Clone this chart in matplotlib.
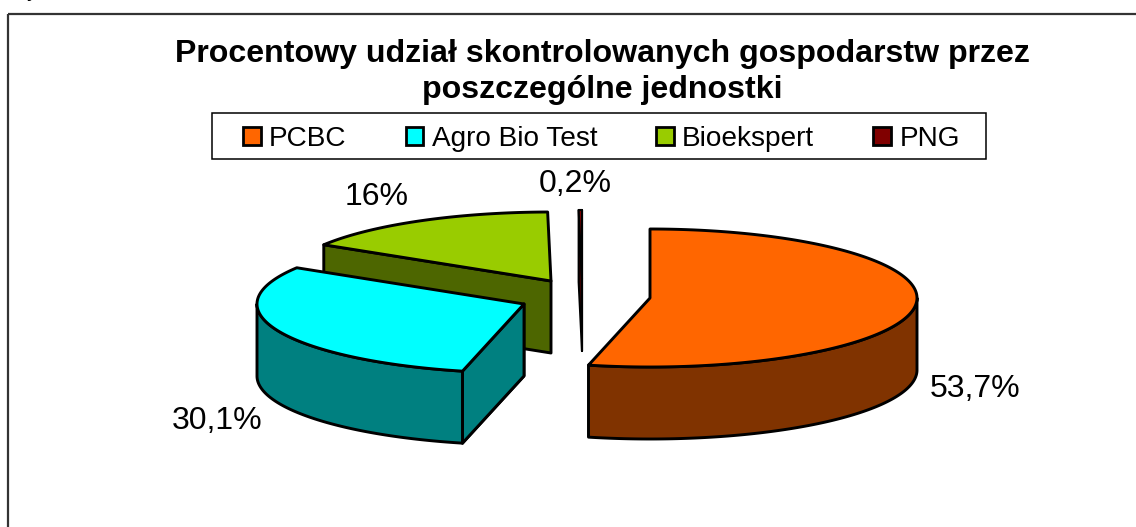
import numpy as np
import matplotlib.pyplot as plt
from matplotlib.patches import Polygon, Patch, Rectangle

plt.rcParams['font.family'] = ['Liberation Sans', 'DejaVu Sans']

# chart data
categories = ['PCBC', 'Agro Bio Test', 'Bioekspert', 'PNG']
shares = [53.7, 30.1, 16.0, 0.2]
share_labels = ['53,7%', '30,1%', '16%', '0,2%']
title = 'Procentowy udział skontrolowanych gospodarstw przez\nposzczególne jednostki'

# styles
top_colors = ['#FF6600', '#00FFFF', '#99CC00', '#800000']
side_colors = ['#803300', '#008080', '#4D6600', '#400000']

# layout, in pixels of the picture
centers = [(650, 298), (524, 304), (551, 281), (582, 279)]
label_pos = [(975, 389), (217, 421), (377, 197), (575, 184)]
rx, ry, depth = 267, 69, 72

fig = plt.figure(figsize=(11.36, 5.27), dpi=100)
ax = fig.add_axes([0, 0, 1, 1])
ax.set_xlim(0, 1136)
ax.set_ylim(527, 0)
ax.axis('off')

# outer frame of the chart, runs off the picture on the right and at the bottom
ax.add_patch(Rectangle((8, 14), 1300, 700, fill=False, ec='#333333', lw=1.6))
# tail of a caption that was cropped at the top of the picture
ax.text(27, -4, 'y', fontsize=16, ha='left', va='baseline', clip_on=False)


def rim(cx, cy, a0, a1):
    # angles are clockwise from 12 o'clock
    t = np.radians(np.linspace(a0, a1, max(int(abs(a1 - a0)) * 2, 4)))
    return np.column_stack([cx + rx * np.sin(t), cy - ry * np.cos(t)])


def down(pts):
    return pts + [0, depth]


ends = np.cumsum([0] + shares) / sum(shares) * 360

# painted back to front
for i in [2, 3, 1, 0]:
    a0, a1 = ends[i], ends[i + 1]
    cx, cy = centers[i]
    arc = rim(cx, cy, a0, a1)
    apex = np.array([[cx, cy]])
    lw = 1.5 if i == 3 else 2.1  # the thin PNG slice goes all black otherwise
    kw = dict(fc=side_colors[i], ec='black', lw=lw, joinstyle='round')

    # flat cut faces that look to the viewer
    if a0 > 180:
        p = np.vstack([apex, arc[:1]])
        ax.add_patch(Polygon(np.vstack([p, down(p)[::-1]]), **kw))
    if i == 3:
        p = np.vstack([apex, arc[-1:]])
        ax.add_patch(Polygon(np.vstack([p, down(p)[::-1]]), **kw))
    if i == 1:
        p = np.vstack([apex, arc[:1]])
        ax.add_patch(Polygon(np.vstack([p, down(p)[::-1]]), **kw))

    # outer wall, the part on the front half of the ellipse
    w0, w1 = max(a0, 90), min(a1, 270)
    if w1 > w0:
        wall = rim(cx, cy, w0, w1)
        ax.add_patch(Polygon(np.vstack([wall, down(wall)[::-1]]), **kw))

    ax.add_patch(Polygon(np.vstack([apex, arc]), fc=top_colors[i], ec='black', lw=lw, joinstyle='round'))

for txt, (x, y) in zip(share_labels, label_pos):
    ax.text(x, y, txt, fontsize=23, ha='center', va='center', color='black')

ax.text(602, 72, title, fontsize=23.1, fontweight='bold', ha='center', va='center', linespacing=1.3)

# legend box is drawn on its own so the padding can differ from top to side
ax.add_patch(Rectangle((212, 113), 774, 46, fc='white', ec='black', lw=1.1))
handles = [Patch(fc=c, ec='black', lw=2.0) for c in top_colors]
leg = ax.legend(handles, categories, ncol=4, loc='upper left', bbox_to_anchor=(243, 126),
                bbox_transform=ax.transData, frameon=False, fontsize=20.2, handlelength=0.64,
                handleheight=0.64, handletextpad=0.29, columnspacing=2.1, borderaxespad=0, borderpad=0)

fig.savefig('out.png', dpi=100)
